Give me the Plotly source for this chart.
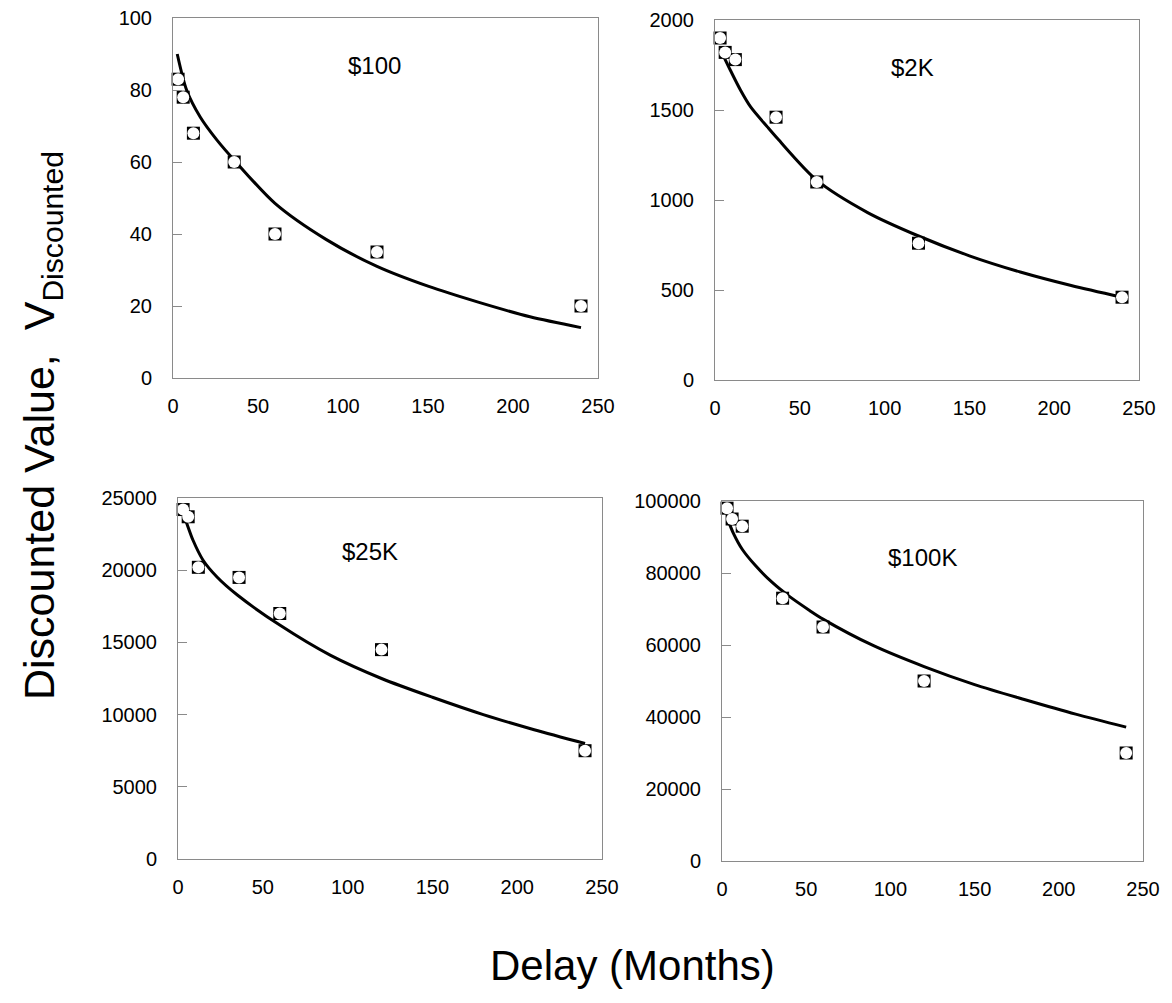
import plotly.graph_objects as go

# Observed indifference points (delay in months -> discounted value)
delays = [3, 6, 12, 36, 60, 120, 240]
v_100 = [83, 78, 68, 60, 40, 35, 20]
v_2k = [1900, 1820, 1780, 1460, 1100, 760, 460]
v_25k = [24200, 23700, 20200, 19500, 17000, 14500, 7500]
v_100k = [98000, 95000, 93000, 73000, 65000, 50000, 30000]

# Fitted discounting curves, sampled along the delay axis
fit_d_100 = [2.5, 8, 16, 26, 37, 60, 90, 120, 150, 180, 210, 240]
fit_100 = [90, 80, 72.5, 66, 60, 48.5, 38.5, 31, 25.5, 21, 17, 14]
fit_d_2k = [3, 9, 15, 21, 31, 37, 60, 90, 120, 150, 180, 210, 240]
fit_2k = [1840, 1722, 1611, 1517, 1405, 1340, 1110, 930, 800, 690, 600, 525, 460]
fit_d_25k = [3, 5.3, 8.8, 14.7, 23, 35, 60, 90, 120, 150, 180, 210, 240]
fit_25k = [23960, 23200, 22090, 20710, 19530, 18280, 16200, 14100, 12500, 11200, 10000, 8950, 8000]
fit_d_100k = [4, 6.5, 12, 20, 30, 40, 52, 60, 90, 120, 150, 180, 210, 240]
fit_100k = [94200, 91300, 86600, 82000, 77300, 73500, 69600, 67200, 59800, 54000, 49000, 44800, 40800, 37200]

panel_labels = ["$100", "$2K", "$25K", "$100K"]
y_max = [100, 2000, 25000, 100000]
y_dtick = [20, 500, 5000, 20000]
x_ticks = [0, 50, 100, 150, 200, 250]

W, H = 1172, 1003
# pixel boxes of each panel: left, right, top, bottom
boxes = [(173, 598, 18, 378), (715, 1139, 20, 380), (178, 602, 498, 859), (722, 1143, 501, 861)]
label_pos = [(0.475, 0.867), (0.465, 0.869), (0.453, 0.853), (0.477, 0.844)]

obs = [v_100, v_2k, v_25k, v_100k]
fit_x = [fit_d_100, fit_d_2k, fit_d_25k, fit_d_100k]
fit_y = [fit_100, fit_2k, fit_25k, fit_100k]

FONT = "Liberation Sans, Arial, Helvetica, sans-serif"
AX_GRAY = "#8a8a8a"

fig = go.Figure()
layout = dict(
    template="none",
    width=W, height=H, margin=dict(l=0, r=0, t=0, b=0, pad=0),
    paper_bgcolor="white", plot_bgcolor="white", showlegend=False,
    font=dict(family=FONT, color="black"),
)
annotations = []
for i in range(4):
    n = "" if i == 0 else str(i + 1)
    xa, ya = "x" + n, "y" + n
    l, r, t, b = boxes[i]
    layout["xaxis" + n] = dict(
        domain=[l / W, r / W], range=[0, 250], anchor=ya, automargin=False,
        tickvals=x_ticks, showline=True, mirror=True, linecolor=AX_GRAY, linewidth=1,
        ticks="", showgrid=False, zeroline=False,
        tickfont=dict(size=20, family=FONT, color="black"), ticklabelstandoff=10,
    )
    layout["yaxis" + n] = dict(
        domain=[1 - b / H, 1 - t / H], range=[0, y_max[i]], anchor=xa, automargin=False,
        dtick=y_dtick[i], tick0=0, tickformat="d",
        showline=True, mirror=True, linecolor=AX_GRAY, linewidth=1,
        ticks="inside", ticklen=9, tickcolor=AX_GRAY, showgrid=False, zeroline=False,
        tickfont=dict(size=20, family=FONT, color="black"), ticklabelstandoff=16,
    )
    fig.add_trace(go.Scatter(
        x=fit_x[i], y=fit_y[i], xaxis=xa, yaxis=ya, mode="lines",
        line=dict(color="black", width=3, shape="spline", smoothing=0.8), hoverinfo="skip",
    ))
    fig.add_trace(go.Scatter(
        x=delays, y=obs[i], xaxis=xa, yaxis=ya, mode="markers",
        marker=dict(symbol="square", size=13, color="black", line=dict(width=0)),
        cliponaxis=False,
    ))
    fig.add_trace(go.Scatter(
        x=delays, y=obs[i], xaxis=xa, yaxis=ya, mode="markers",
        marker=dict(symbol="circle", size=12, color="white", line=dict(width=0)),
        cliponaxis=False,
    ))
    annotations.append(dict(
        text=panel_labels[i], xref=xa + " domain", yref=ya + " domain",
        x=label_pos[i][0], y=label_pos[i][1], xanchor="center", yanchor="middle",
        showarrow=False, font=dict(size=24, family=FONT, color="black"),
    ))

annotations.append(dict(
    text="Delay (Months)", xref="paper", yref="paper", x=632 / W, y=1 - 965 / H,
    xanchor="center", yanchor="middle",
    showarrow=False, font=dict(size=42, family=FONT, color="black"),
))
annotations.append(dict(
    text="Discounted Value,  V<sub>Discounted</sub>", xref="paper", yref="paper",
    x=42 / W, y=1 - 426 / H, xanchor="center", yanchor="middle", textangle=-90,
    showarrow=False, font=dict(size=43, family=FONT, color="black"),
))
layout["annotations"] = annotations
fig.update_layout(**layout)
fig.write_html("out.html")
